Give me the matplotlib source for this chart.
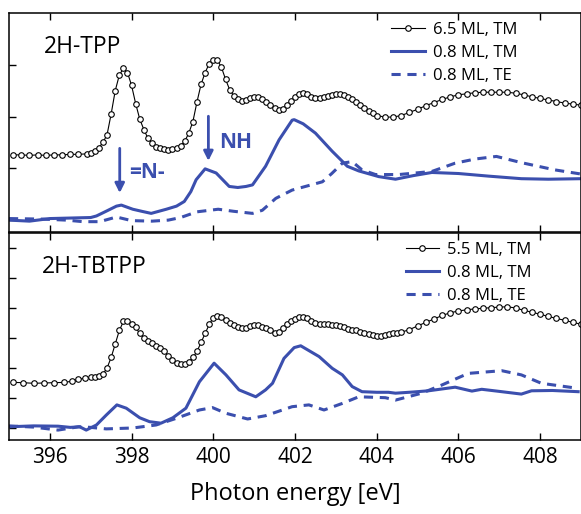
import numpy as np
import matplotlib.pyplot as plt

plt.rcParams['font.family'] = ['Open Sans', 'DejaVu Sans']

blue = '#3b4fae'

# --- 2H-TPP (top panel) ---
tpp_thick_x = [395.1, 395.3, 395.5, 395.7, 395.9, 396.1, 396.3, 396.5, 396.7, 396.9,
               397.0, 397.1, 397.2, 397.3, 397.4, 397.5, 397.6, 397.7, 397.8, 397.9,
               398.0, 398.1, 398.2, 398.3, 398.4, 398.5, 398.6, 398.7, 398.8, 398.9,
               399.0, 399.1, 399.2, 399.3, 399.4, 399.5, 399.6, 399.7, 399.8, 399.9,
               400.0, 400.1, 400.2, 400.3, 400.4, 400.5, 400.6, 400.7, 400.8, 400.9,
               401.0, 401.1, 401.2, 401.3, 401.4, 401.5, 401.6, 401.7, 401.8, 401.9,
               402.0, 402.1, 402.2, 402.3, 402.4, 402.5, 402.6, 402.7, 402.8, 402.9,
               403.0, 403.1, 403.2, 403.3, 403.4, 403.5, 403.6, 403.7, 403.8, 403.9,
               404.0, 404.2, 404.4, 404.6, 404.8, 405.0, 405.2, 405.4, 405.6, 405.8,
               406.0, 406.2, 406.4, 406.6, 406.8, 407.0, 407.2, 407.4, 407.6, 407.8,
               408.0, 408.2, 408.4, 408.6, 408.8, 409.0]
tpp_thick_y = [1.26, 1.26, 1.25, 1.26, 1.25, 1.26, 1.26, 1.27, 1.27, 1.28,
               1.30, 1.33, 1.40, 1.50, 1.65, 2.05, 2.50, 2.80, 2.93, 2.85,
               2.60, 2.25, 1.95, 1.75, 1.58, 1.48, 1.42, 1.39, 1.37, 1.36,
               1.37, 1.39, 1.44, 1.52, 1.68, 1.90, 2.28, 2.62, 2.85, 3.02,
               3.10, 3.09, 2.95, 2.72, 2.52, 2.40, 2.33, 2.30, 2.32, 2.36,
               2.38, 2.37, 2.34, 2.28, 2.22, 2.16, 2.12, 2.14, 2.22, 2.30,
               2.38, 2.44, 2.46, 2.43, 2.38, 2.36, 2.36, 2.37, 2.39, 2.42,
               2.44, 2.44, 2.42, 2.38, 2.33, 2.28, 2.22, 2.16, 2.10, 2.06,
               2.02, 1.99, 1.99, 2.02, 2.08, 2.14, 2.21, 2.27, 2.33, 2.38,
               2.42, 2.44, 2.46, 2.47, 2.47, 2.47, 2.47, 2.45, 2.42, 2.38,
               2.35, 2.32, 2.29, 2.26, 2.24, 2.22]

tpp_tm_x = [395.0, 395.5, 396.0, 396.5, 397.0, 397.14, 397.4, 397.63, 397.75, 398.03,
            398.25, 398.48, 398.85, 399.1, 399.29, 399.45, 399.58, 399.8, 400.07, 400.39,
            400.6, 400.8, 400.96, 401.28, 401.61, 401.93, 401.98, 402.2, 402.5, 402.91,
            403.28, 403.56, 404.05, 404.46, 404.9, 405.35, 406.0, 406.73, 407.54, 408.2,
            409.0]
tpp_tm_y = [0.00, -0.02, 0.03, 0.04, 0.05, 0.08, 0.18, 0.27, 0.29, 0.21,
            0.17, 0.13, 0.21, 0.27, 0.36, 0.55, 0.78, 0.99, 0.91, 0.65,
            0.63, 0.65, 0.68, 1.04, 1.55, 1.93, 1.94, 1.86, 1.68, 1.33,
            1.04, 0.95, 0.84, 0.79, 0.86, 0.92, 0.90, 0.85, 0.80, 0.79,
            0.80]

tpp_te_x = [395.0, 395.8, 396.4, 396.81, 397.22, 397.63, 398.0, 398.5, 398.9, 399.2,
            399.6, 400.12, 400.5, 400.96, 401.2, 401.53, 401.93, 402.3, 402.67, 402.9,
            403.16, 403.4, 403.64, 403.97, 404.54, 405.35, 405.92, 406.41, 406.93, 407.54,
            408.36, 409.0]
tpp_te_y = [0.03, 0.02, 0.00, -0.03, -0.03, 0.06, -0.01, -0.02, 0.00, 0.05,
            0.16, 0.21, 0.17, 0.13, 0.19, 0.42, 0.58, 0.66, 0.74, 0.90,
            1.10, 1.13, 0.97, 0.88, 0.88, 0.94, 1.10, 1.18, 1.23, 1.11,
            0.97, 0.89]

# --- 2H-TBTPP (bottom panel) ---
tb_thick_x = [395.1, 395.35, 395.6, 395.85, 396.1, 396.35, 396.55, 396.7, 396.85, 397.0,
              397.1, 397.2, 397.3, 397.4, 397.5, 397.6, 397.7, 397.8, 397.9, 398.0,
              398.1, 398.2, 398.3, 398.4, 398.5, 398.6, 398.7, 398.8, 398.9, 399.0,
              399.1, 399.2, 399.3, 399.4, 399.5, 399.6, 399.7, 399.8, 399.9, 400.0,
              400.1, 400.2, 400.3, 400.4, 400.5, 400.6, 400.7, 400.8, 400.9, 401.0,
              401.1, 401.2, 401.3, 401.4, 401.5, 401.6, 401.7, 401.8, 401.9, 402.0,
              402.1, 402.2, 402.3, 402.4, 402.5, 402.6, 402.7, 402.8, 402.9, 403.0,
              403.1, 403.2, 403.3, 403.4, 403.5, 403.6, 403.7, 403.8, 403.9, 404.0,
              404.1, 404.2, 404.3, 404.4, 404.5, 404.6, 404.8, 405.0, 405.2, 405.4,
              405.6, 405.8, 406.0, 406.2, 406.4, 406.6, 406.8, 407.0, 407.2, 407.4,
              407.6, 407.8, 408.0, 408.2, 408.4, 408.6, 408.8, 409.0]
tb_thick_y = [1.52, 1.51, 1.49, 1.50, 1.51, 1.52, 1.56, 1.62, 1.66, 1.69,
              1.71, 1.74, 1.80, 2.00, 2.35, 2.80, 3.25, 3.55, 3.58, 3.48,
              3.35, 3.15, 3.00, 2.90, 2.82, 2.74, 2.66, 2.58, 2.40, 2.25,
              2.15, 2.12, 2.14, 2.20, 2.35, 2.55, 2.85, 3.15, 3.45, 3.68,
              3.74, 3.70, 3.60, 3.50, 3.42, 3.36, 3.33, 3.34, 3.40, 3.43,
              3.42, 3.38, 3.32, 3.25, 3.18, 3.20, 3.32, 3.45, 3.55, 3.62,
              3.70, 3.71, 3.65, 3.57, 3.50, 3.48, 3.47, 3.45, 3.44, 3.43,
              3.40, 3.36, 3.30, 3.26, 3.25, 3.20, 3.15, 3.12, 3.10, 3.08,
              3.07, 3.10, 3.12, 3.15, 3.17, 3.19, 3.28, 3.40, 3.52, 3.63,
              3.75, 3.84, 3.90, 3.94, 3.97, 3.99, 4.01, 4.03, 4.04, 4.00,
              3.92, 3.86, 3.79, 3.72, 3.65, 3.59, 3.52, 3.46]

tb_tm_x = [395.0, 395.6, 396.2, 396.5, 396.73, 396.89, 397.14, 397.38, 397.64, 397.87,
           398.2, 398.44, 398.72, 399.01, 399.33, 399.66, 400.02, 400.31, 400.63, 401.04,
           401.28, 401.45, 401.73, 401.98, 402.14, 402.59, 402.91, 403.16, 403.4, 403.64,
           404.0, 404.29, 404.46, 404.9, 405.27, 405.92, 406.33, 406.57, 407.0, 407.54,
           407.79, 408.3, 408.93]
tb_tm_y = [0.04, 0.07, 0.06, 0.02, 0.04, -0.07, 0.10, 0.43, 0.77, 0.66,
           0.34, 0.21, 0.16, 0.34, 0.66, 1.54, 2.16, 1.77, 1.27, 1.04,
           1.27, 1.49, 2.32, 2.68, 2.74, 2.38, 1.99, 1.77, 1.38, 1.21,
           1.19, 1.19, 1.16, 1.20, 1.24, 1.36, 1.23, 1.29, 1.22, 1.13,
           1.24, 1.25, 1.21]

tb_te_x = [395.0, 395.6, 396.2, 396.7, 397.0, 397.38, 398.03, 398.6, 399.09, 399.66,
           399.98, 400.31, 400.84, 401.28, 401.93, 402.34, 402.71, 403.16, 403.56, 404.21,
           404.46, 405.1, 405.59, 406.24, 407.06, 407.54, 408.03, 408.93]
tb_te_y = [0.07, 0.03, -0.07, 0.04, 0.02, -0.03, 0.00, 0.10, 0.32, 0.60,
           0.68, 0.49, 0.30, 0.41, 0.71, 0.77, 0.60, 0.82, 1.04, 1.01,
           0.93, 1.16, 1.43, 1.82, 1.91, 1.77, 1.49, 1.32]

fig = plt.figure(figsize=(5.81, 5.14), dpi=100)
ax1 = fig.add_axes([0.0155, 0.5486, 0.9845, 0.4261])
ax2 = fig.add_axes([0.0155, 0.1440, 0.9845, 0.4027])


def draw(ax, thick_x, thick_y, tm_x, tm_y, te_x, te_y, thick_label, legend_x):
    ax.plot(thick_x, thick_y, '-o', color='black', lw=0.8, ms=4.0, mfc='white',
            mew=0.8, label=thick_label)
    ax.plot(tm_x, tm_y, '-', color=blue, lw=2.2, label='0.8 ML, TM')
    ax.plot(te_x, te_y, '--', color=blue, lw=2.2, dashes=(3, 2.2), label='0.8 ML, TE')
    ax.set_xlim(395, 409)
    ax.set_xticks(np.arange(396, 409, 2))
    ax.tick_params(direction='in', length=5, width=1, top=True, right=False,
                   labelleft=False, labelsize=15, pad=5)
    for s in ax.spines.values():
        s.set_linewidth(1.1)
    ax.legend(loc='upper right', frameon=False, fontsize=12, handlelength=2.0,
              handletextpad=0.5, labelspacing=0.42, borderaxespad=0.15,
              bbox_to_anchor=(legend_x, 1.0))


draw(ax1, tpp_thick_x, tpp_thick_y, tpp_tm_x, tpp_tm_y, tpp_te_x, tpp_te_y,
     '6.5 ML, TM', 0.905)
ax1.set_ylim(-0.23, 4.0)
ax1.set_yticks([0, 1, 2, 3])
ax1.tick_params(labelbottom=False)
ax1.text(395.85, 3.34, '2H-TPP', fontsize=16.5, va='center', ha='left')
ax1.annotate('', xy=(397.71, 0.47), xytext=(397.71, 1.44),
             arrowprops=dict(arrowstyle='-|>', color=blue, lw=2, mutation_scale=14))
ax1.annotate('', xy=(399.88, 1.09), xytext=(399.88, 2.06),
             arrowprops=dict(arrowstyle='-|>', color=blue, lw=2, mutation_scale=14))
ax1.text(397.95, 0.91, '=N-', fontsize=15, fontweight='bold', color=blue,
         va='center', ha='left')
ax1.text(400.15, 1.5, 'NH', fontsize=15, fontweight='bold', color=blue,
         va='center', ha='left')

draw(ax2, tb_thick_x, tb_thick_y, tb_tm_x, tb_tm_y, tb_te_x, tb_te_y,
     '5.5 ML, TM', 0.93)
ax2.set_ylim(-0.4, 6.5)
ax2.set_yticks([0, 1, 2, 3, 4, 5, 6])
ax2.text(395.8, 5.37, '2H-TBTPP', fontsize=16.5, va='center', ha='left')
ax2.set_xlabel('Photon energy [eV]', fontsize=17, labelpad=10)

fig.savefig('out.png', dpi=100)
